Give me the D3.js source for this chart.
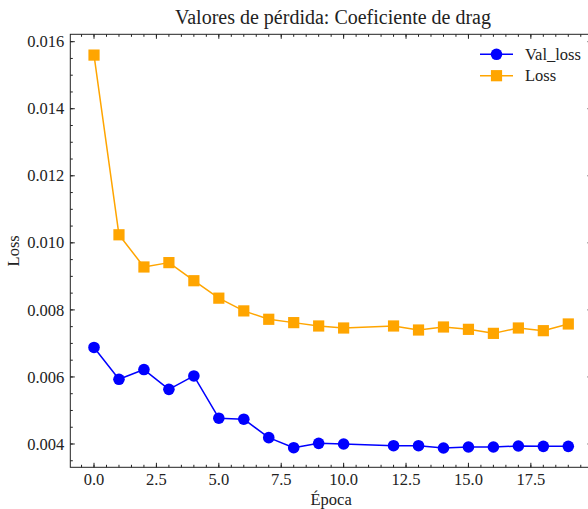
<!DOCTYPE html>
<html>
<head>
<meta charset="utf-8">
<script src="https://cdn.jsdelivr.net/npm/d3@7/dist/d3.min.js"></script>
<style>
  html, body { margin: 0; padding: 0; background: #fff; }
  svg { display: block; overflow: hidden; }
  text { font-family: "Liberation Serif", "DejaVu Serif", serif; fill: #222; }
</style>
</head>
<body>
<svg id="chart" width="588" height="509"></svg>
<script>
// Training history: epochs and the two loss curves (epoch 11 was not logged)
const epochs   = [0, 1, 2, 3, 4, 5, 6, 7, 8, 9, 10, 12, 13, 14, 15, 16, 17, 18, 19];
const valLoss  = [0.00688, 0.00593, 0.00622, 0.00563, 0.00603, 0.00477, 0.00474, 0.00419, 0.00389, 0.00402,
                  0.00400, 0.00395, 0.00395, 0.00388, 0.00391, 0.00391, 0.00394, 0.00393, 0.00393];
const loss     = [0.01560, 0.01024, 0.00928, 0.00941, 0.00887, 0.00835, 0.00797, 0.00772, 0.00762, 0.00752,
                  0.00746, 0.00752, 0.00740, 0.00749, 0.00742, 0.00730, 0.00746, 0.00738, 0.00758];
const xTicks   = [0, 2.5, 5, 7.5, 10, 12.5, 15, 17.5];
const yTicks   = [0.004, 0.006, 0.008, 0.010, 0.012, 0.014, 0.016];

const series = [
  { name: "Val_loss", values: valLoss, color: "#0000ff", marker: "circle" },
  { name: "Loss",     values: loss,    color: "#ffa500", marker: "square" }
];

const svg = d3.select("#chart");
const box = { left: 70.3, right: 592, top: 34.3, bottom: 467.3 };

const x = d3.scaleLinear().domain([-0.95, 19.95]).range([box.left, box.right]);
const y = d3.scaleLinear().domain([0.003305, 0.01622]).range([box.bottom, box.top]);

const plot = svg.append("g");

// Lines and markers
const line = d3.line().x(d => x(d[0])).y(d => y(d[1]));
series.forEach(s => {
  const pts = epochs.map((e, i) => [e, s.values[i]]);
  plot.append("path")
    .attr("d", line(pts))
    .attr("fill", "none")
    .attr("stroke", s.color)
    .attr("stroke-width", 1.5)
    .attr("stroke-linejoin", "round");
  if (s.marker === "circle") {
    plot.selectAll(null).data(pts).enter().append("circle")
      .attr("cx", d => x(d[0])).attr("cy", d => y(d[1])).attr("r", 5.8)
      .attr("fill", s.color);
  } else {
    plot.selectAll(null).data(pts).enter().append("rect")
      .attr("x", d => x(d[0]) - 5.6).attr("y", d => y(d[1]) - 5.6)
      .attr("width", 11.2).attr("height", 11.2)
      .attr("fill", s.color);
  }
});

// Frame
svg.append("rect")
  .attr("x", box.left).attr("y", box.top)
  .attr("width", box.right - box.left).attr("height", box.bottom - box.top)
  .attr("fill", "none").attr("stroke", "#222").attr("stroke-width", 1);

// Inward ticks on all four sides
const xMinor = d3.range(-0.5, 20, 0.5).filter(v => v >= -0.95 && v <= 19.95);
const yMinor = d3.range(0.0035, 0.0162, 0.0005);
const tickG = svg.append("g").attr("stroke", "#222").attr("stroke-width", 1);
function xTick(v, len) {
  const px = x(v);
  tickG.append("line").attr("x1", px).attr("x2", px).attr("y1", box.bottom).attr("y2", box.bottom - len);
  tickG.append("line").attr("x1", px).attr("x2", px).attr("y1", box.top).attr("y2", box.top + len);
}
function yTick(v, len) {
  const py = y(v);
  tickG.append("line").attr("y1", py).attr("y2", py).attr("x1", box.left).attr("x2", box.left + len);
  tickG.append("line").attr("y1", py).attr("y2", py).attr("x1", box.right).attr("x2", box.right - len);
}
xMinor.forEach(v => xTick(v, 2.5));
xTicks.forEach(v => xTick(v, 4.5));
yMinor.forEach(v => yTick(v, 2.5));
yTicks.forEach(v => yTick(v, 4.5));

// Tick labels
svg.append("g").selectAll("text").data(xTicks).enter().append("text")
  .attr("x", d => x(d)).attr("y", box.bottom + 18)
  .attr("text-anchor", "middle").attr("font-size", 16.5)
  .text(d => d3.format(".1f")(d));
svg.append("g").selectAll("text").data(yTicks).enter().append("text")
  .attr("x", box.left - 6).attr("y", d => y(d)).attr("dy", "0.34em")
  .attr("text-anchor", "end").attr("font-size", 16.5)
  .text(d => d3.format(".3f")(d));

// Axis titles and chart title
svg.append("text").attr("x", (box.left + box.right) / 2).attr("y", 505)
  .attr("text-anchor", "middle").attr("font-size", 16.5).text("Época");
svg.append("text").attr("transform", `translate(19,${(box.top + box.bottom) / 2}) rotate(-90)`)
  .attr("text-anchor", "middle").attr("font-size", 16.5).text("Loss");
svg.append("text").attr("x", 333).attr("y", 24)
  .attr("text-anchor", "middle").attr("font-size", 20).text("Valores de pérdida: Coeficiente de drag");

// Legend
const legend = svg.append("g");
series.forEach((s, i) => {
  const ly = 54.3 + i * 21.4;
  legend.append("line").attr("x1", 480).attr("x2", 513).attr("y1", ly).attr("y2", ly)
    .attr("stroke", s.color).attr("stroke-width", 1.5);
  if (s.marker === "circle") {
    legend.append("circle").attr("cx", 496.5).attr("cy", ly).attr("r", 5.8).attr("fill", s.color);
  } else {
    legend.append("rect").attr("x", 496.5 - 5.6).attr("y", ly - 5.6)
      .attr("width", 11.2).attr("height", 11.2).attr("fill", s.color);
  }
  legend.append("text").attr("x", 525).attr("y", ly).attr("dy", "0.34em")
    .attr("font-size", 16.5).text(s.name);
});
</script>
</body>
</html>
